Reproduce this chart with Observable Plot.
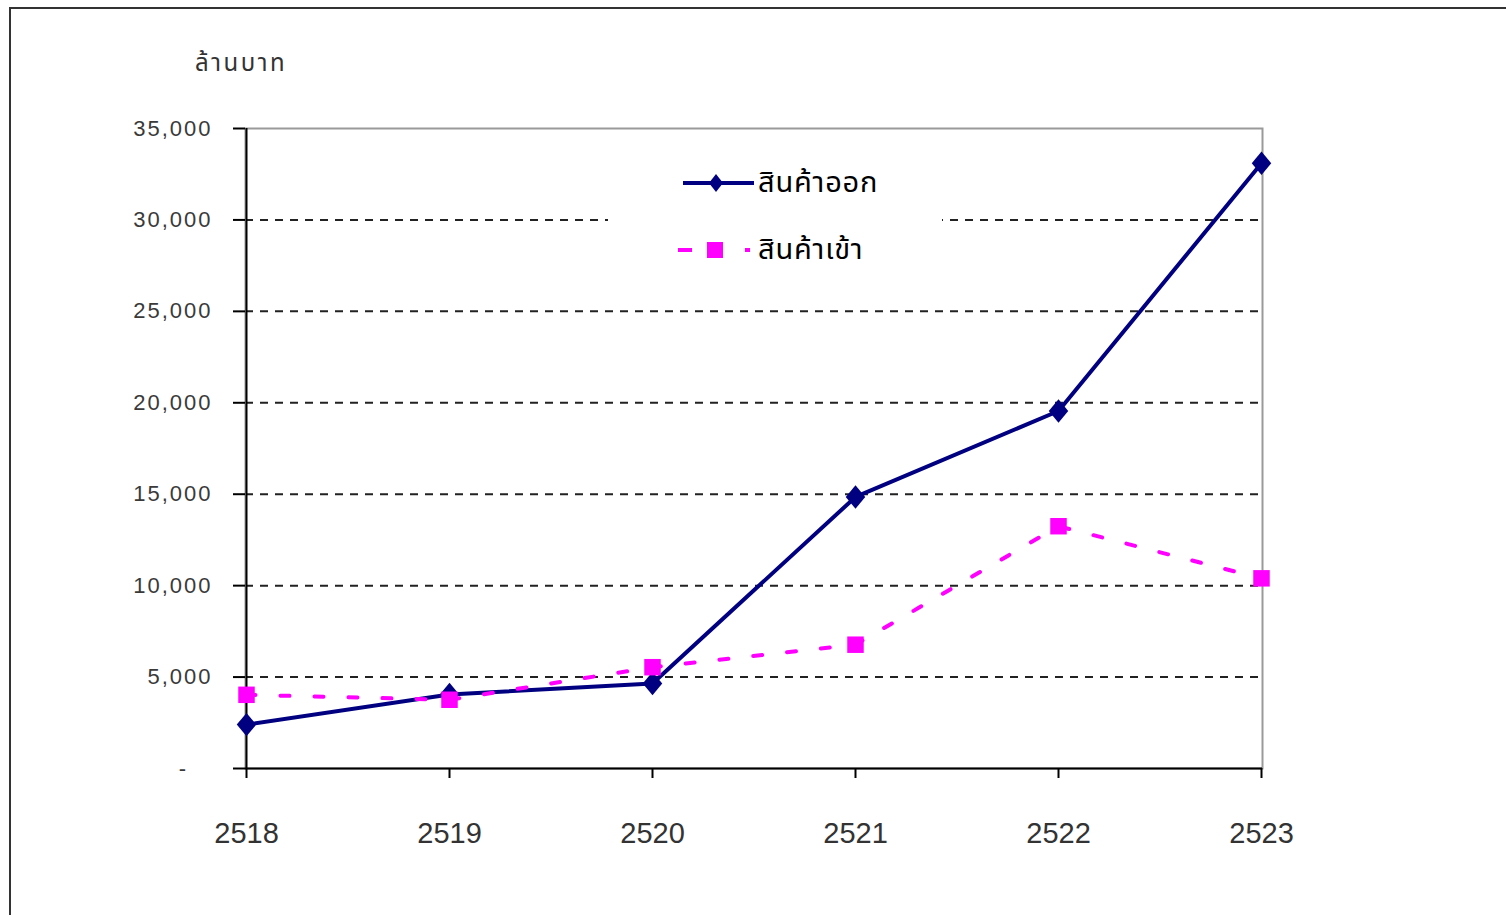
<!DOCTYPE html>
<html>
<head>
<meta charset="utf-8">
<script src="https://cdn.jsdelivr.net/npm/d3@7"></script>
<script src="https://cdn.jsdelivr.net/npm/@observablehq/plot@0.6"></script>
<style>
  body { margin: 0; background: #fff; }
  #wrap { position: relative; width: 1506px; height: 915px; overflow: hidden; background: #fff; }
  #outer { position: absolute; left: 9px; top: 7px; width: 1700px; height: 1100px; border-top: 2px solid #333; border-left: 2px solid #333; box-sizing: border-box; pointer-events: none; }
  #chart { position: absolute; left: 0; top: 0; }
  #ytitle { position: absolute; left: 195px; top: 46px; font-family: Tahoma, "Noto Sans Thai", "DejaVu Sans", sans-serif; font-size: 24px; color: #333; letter-spacing: 2.5px; }
  #legend { position: absolute; left: 608px; top: 150px; width: 334px; height: 125px; background: #fff; }
  #legend .item { position: absolute; left: 68px; height: 40px; display: flex; align-items: center; }
  #legend .lab { font-family: Tahoma, "Noto Sans Thai", "DejaVu Sans", sans-serif; font-size: 29px; color: #000; margin-left: 2px; letter-spacing: 0.8px; }
  g[aria-label="y-axis tick label"] text { letter-spacing: 2px; }
</style>
</head>
<body>
<div id="wrap">
  <div id="chart"></div>
  <div id="outer"></div>
  <div id="ytitle"></div>
  <div id="legend"></div>
</div>
<script>
// ---- data ----
const years = ["2518", "2519", "2520", "2521", "2522", "2523"];
const exportValues = [2400, 4050, 4650, 14850, 19550, 33100];
const importValues = [4030, 3760, 5540, 6770, 13250, 10400];
const seriesNames = ["สินค้าออก", "สินค้าเข้า"];
const yTicks = [0, 5000, 10000, 15000, 20000, 25000, 30000, 35000];
const gridTicks = [5000, 10000, 15000, 20000, 25000, 30000];
const yTitle = "ล้านบาท";

const exportsData = years.map((y, i) => ({year: y, value: exportValues[i], series: seriesNames[0]}));
const importsData = years.map((y, i) => ({year: y, value: importValues[i], series: seriesNames[1]}));

const navy = "#000080";
const magenta = "#ff00ff";

const diamond = {
  draw(ctx, size) {
    const s = Math.sqrt(size);
    const w = s * 0.5, h = s * 0.6;
    ctx.moveTo(0, -h); ctx.lineTo(w, 0); ctx.lineTo(0, h); ctx.lineTo(-w, 0); ctx.closePath();
  }
};

const chart = Plot.plot({
  width: 1506,
  height: 915,
  marginLeft: 245,
  marginRight: 244,
  marginTop: 128,
  marginBottom: 147,
  style: {background: "transparent", fontFamily: "'Liberation Sans', Arial, sans-serif", color: "#333"},
  x: {type: "point", domain: years, padding: 0},
  y: {domain: [0, 35000]},
  marks: [
    Plot.ruleY(gridTicks, {stroke: "#222", strokeWidth: 2, strokeDasharray: "8,7"}),
    Plot.frame({stroke: "#9a9a9a", strokeWidth: 2}),
    Plot.ruleX([years[0]], {stroke: "#000", strokeWidth: 2}),
    Plot.ruleY([0], {stroke: "#000", strokeWidth: 2}),
    Plot.axisY(yTicks, {
      tickSize: 12, tickPadding: 21, fontSize: 22,
      tickFormat: d => d === 0 ? "-\u00a0\u00a0\u00a0" : d3.format(",")(d),
      stroke: "#000", strokeWidth: 2, fill: "#3a3a3a", label: null
    }),
    Plot.axisX({
      tickSize: 10, tickPadding: 44, fontSize: 29,
      stroke: "#000", strokeWidth: 2, fill: "#333", label: null
    }),
    Plot.lineY(exportsData, {x: "year", y: "value", stroke: navy, strokeWidth: 4}),
    Plot.dot(exportsData, {x: "year", y: "value", symbol: diamond, r: 11, fill: navy, stroke: "none"}),
    Plot.lineY(importsData, {x: "year", y: "value", stroke: magenta, strokeWidth: 4, strokeDasharray: "9,25"}),
    Plot.dot(importsData, {x: "year", y: "value", symbol: "square", r: 9.3, fill: magenta, stroke: "none"})
  ]
});
document.getElementById("chart").appendChild(chart);
document.getElementById("ytitle").textContent = yTitle;

// legend
const legend = document.getElementById("legend");
function item(top, sample, name) {
  const d = document.createElement("div");
  d.className = "item";
  d.style.top = top + "px";
  d.innerHTML = sample + `<span class="lab"></span>`;
  d.querySelector(".lab").textContent = name;
  legend.appendChild(d);
}
item(13,
  `<svg width="80" height="20"><line x1="7" y1="10" x2="78" y2="10" stroke="${navy}" stroke-width="4"/><path d="M40,1L47,10L40,19L33,10Z" fill="${navy}"/></svg>`,
  seriesNames[0]);
item(80,
  `<svg width="80" height="20"><line x1="2" y1="10" x2="16" y2="10" stroke="${magenta}" stroke-width="4"/><rect x="31" y="2" width="16" height="16" fill="${magenta}"/><line x1="69" y1="10" x2="74" y2="10" stroke="${magenta}" stroke-width="4"/></svg>`,
  seriesNames[1]);
</script>
</body>
</html>
